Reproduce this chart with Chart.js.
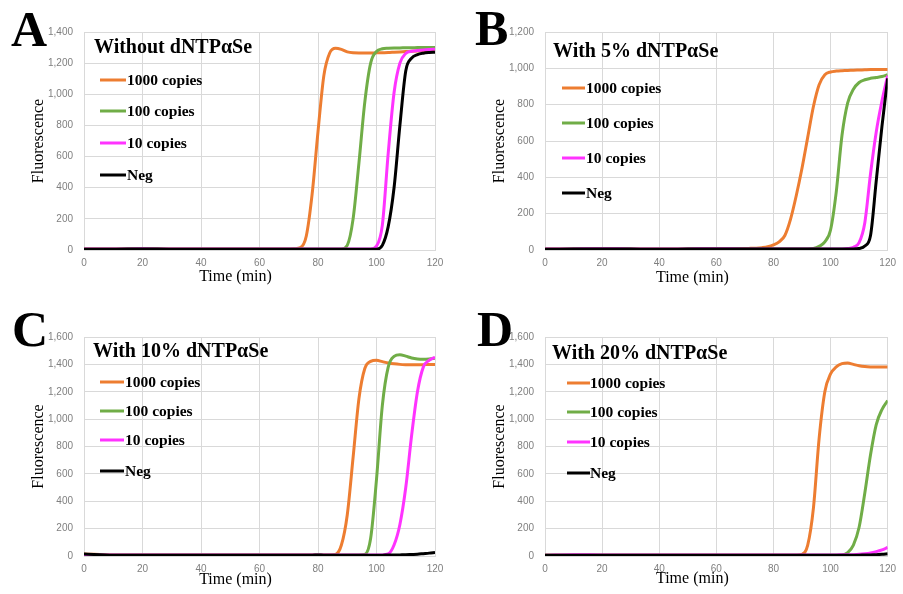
<!DOCTYPE html>
<html>
<head>
<meta charset="utf-8">
<script src="https://cdn.jsdelivr.net/npm/chart.js@4.4.1/dist/chart.umd.min.js"></script>
<style>
html, body { margin: 0; padding: 0; background: #fff; }
#wrap { position: relative; width: 903px; height: 594px; }
#wrap canvas { position: absolute; left: 0; top: 0; }
</style>
</head>
<body>
<div id="wrap">
    <canvas id="painelA" width="903" height="594"></canvas>
    <canvas id="painelB" width="903" height="594"></canvas>
    <canvas id="painelC" width="903" height="594"></canvas>
    <canvas id="painelD" width="903" height="594"></canvas>
</div>
<script>
// tempo (min)
const tempos = [0, 10, 20, 30, 40, 50, 60, 70, 72, 74, 76, 78, 80, 82, 84, 86, 88, 90,
    92, 94, 96, 98, 100, 102, 104, 106, 108, 110, 112, 114, 116, 118, 120];

const nomesSeries = ['1000 copies', '100 copies', '10 copies', 'Neg'];
const xTicks = [0, 20, 40, 60, 80, 100, 120];

// A - Without dNTPaSe
const a1000 = [6, 6, 8, 6, 6, 7, 6, 6, 8, 15, 90, 360, 760, 1120, 1265, 1295, 1288, 1272,
    1266, 1265, 1265, 1265, 1266, 1267, 1268, 1270, 1272, 1274, 1276, 1278, 1280, 1282, 1284];
const a100 = [6, 6, 8, 6, 6, 7, 6, 6, 6, 6, 6, 6, 6, 6, 6, 6, 6, 30,
    200, 560, 950, 1200, 1275, 1292, 1296, 1298, 1298, 1299, 1299, 1300, 1300, 1300, 1300];
const a10 = [6, 6, 8, 6, 6, 6, 6, 6, 6, 6, 6, 6, 6, 6, 6, 6, 6, 6,
    6, 6, 6, 6, 25, 160, 620, 1010, 1200, 1262, 1276, 1281, 1285, 1288, 1290];
const aNeg = [5, 5, 7, 5, 5, 5, 5, 5, 5, 5, 5, 5, 5, 5, 5, 5, 5, 5,
    5, 5, 5, 5, 5, 30, 150, 400, 800, 1150, 1232, 1255, 1264, 1268, 1270];

// B - With 5% dNTPaSe
const b1000 = [5, 6, 8, 6, 5, 6, 7, 8, 9, 10, 13, 18, 28, 45, 80, 170, 300, 450,
    620, 790, 910, 965, 980, 985, 987, 988, 990, 991, 992, 993, 993, 994, 994];
const b100 = [5, 6, 7, 6, 5, 6, 7, 6, 6, 6, 6, 6, 6, 6, 6, 6, 6, 6,
    6, 8, 20, 45, 110, 320, 630, 810, 885, 922, 937, 945, 950, 955, 965];
const b10 = [5, 6, 7, 6, 5, 6, 7, 6, 6, 6, 6, 6, 6, 6, 6, 6, 6, 6,
    6, 6, 6, 6, 6, 6, 6, 8, 15, 40, 150, 420, 650, 820, 960];
const bNeg = [4, 5, 6, 5, 4, 5, 6, 5, 5, 5, 5, 5, 5, 5, 5, 5, 5, 5,
    5, 5, 5, 5, 5, 5, 5, 5, 5, 8, 22, 80, 380, 680, 945];

// C - With 10% dNTPaSe
const c1000 = [15, 8, 8, 8, 8, 8, 8, 8, 8, 8, 8, 8, 8, 8, 8, 12, 80, 300,
    720, 1150, 1370, 1422, 1430, 1420, 1410, 1404, 1400, 1398, 1397, 1397, 1398, 1400, 1400];
const c100 = [10, 8, 8, 8, 8, 8, 8, 8, 8, 8, 8, 8, 8, 8, 8, 8, 8, 8,
    8, 8, 12, 130, 560, 1100, 1380, 1458, 1470, 1460, 1447, 1440, 1438, 1440, 1445];
const c10 = [8, 8, 8, 8, 8, 8, 8, 8, 8, 8, 8, 8, 8, 8, 8, 8, 8, 8,
    8, 8, 8, 8, 8, 8, 15, 80, 230, 500, 880, 1200, 1380, 1430, 1452];
const cNeg = [15, 6, 5, 5, 5, 5, 5, 5, 5, 5, 6, 6, 7, 6, 6, 6, 6, 6,
    6, 6, 6, 6, 6, 6, 7, 7, 8, 9, 11, 13, 17, 21, 26];

// D - With 20% dNTPaSe
const d1000 = [6, 6, 6, 6, 6, 6, 6, 6, 6, 6, 6, 6, 6, 6, 6, 6, 6, 12,
    80, 350, 860, 1200, 1330, 1382, 1405, 1410, 1400, 1390, 1384, 1381, 1380, 1380, 1380];
const d100 = [6, 6, 6, 6, 6, 6, 6, 6, 6, 6, 6, 6, 6, 6, 6, 6, 6, 6,
    6, 6, 6, 6, 6, 6, 8, 25, 80, 210, 460, 740, 960, 1070, 1135];
const d10 = [5, 10, 8, 7, 7, 7, 8, 7, 7, 7, 7, 7, 7, 7, 7, 7, 7, 7,
    7, 7, 7, 7, 8, 8, 9, 9, 10, 12, 16, 22, 32, 45, 62];
const dNeg = [5, 5, 5, 5, 5, 5, 5, 5, 5, 5, 5, 5, 5, 5, 5, 5, 5, 5,
    5, 5, 5, 5, 5, 5, 5, 5, 5, 6, 7, 8, 10, 12, 16];

const cores = ['#ED7D31', '#70AD47', '#FF33FF', '#000000'];

const anotacoes = {
    id: 'anotacoes',
    afterDraw(chart, args, opts) {
        const ctx = chart.ctx;
        const area = chart.chartArea;
        ctx.save();
        ctx.fillStyle = '#000';
        ctx.textAlign = 'left';

        ctx.font = 'bold 50px "Liberation Serif"';
        ctx.textBaseline = 'alphabetic';
        ctx.fillText(opts.letra, opts.letraX, opts.letraY);

        ctx.font = '16px "Liberation Serif"';
        ctx.textAlign = 'center';
        ctx.textBaseline = 'middle';
        ctx.fillText('Time (min)', (area.left + area.right) / 2 - 24, area.bottom + opts.xTituloDy);

        ctx.textAlign = 'left';
        ctx.font = 'bold 20px "Liberation Serif"';
        ctx.fillText(opts.titulo, area.left + opts.tituloDx, area.top + opts.tituloDy);

        ctx.font = 'bold 15.5px "Liberation Serif"';
        chart.data.datasets.forEach((ds, i) => {
            const y = area.top + opts.itensDy[i];
            ctx.strokeStyle = ds.borderColor;
            ctx.lineWidth = 3;
            ctx.beginPath();
            ctx.moveTo(area.left + opts.linhaX0, y);
            ctx.lineTo(area.left + opts.linhaX1, y);
            ctx.stroke();
            ctx.fillText(ds.label, area.left + opts.textoDx, y + 1);
        });
        ctx.restore();
    }
};

function criarPainel(id, valores, yMax, area, legenda) {
    const ctx = document.getElementById(id).getContext('2d');
    const ordem = [3, 2, 1, 0];
    return new Chart(ctx, {
        type: 'line',
        data: {
            labels: tempos,
            datasets: valores.map((v, i) => ({
                label: nomesSeries[i],
                data: v.map((y, k) => ({ x: tempos[k], y: y })),
                borderColor: cores[i],
                borderWidth: 3,
                pointRadius: 0,
                cubicInterpolationMode: 'monotone',
                order: ordem[i]
            }))
        },
        options: {
            responsive: false,
            animation: false,
            devicePixelRatio: 1,
            layout: {
                padding: {
                    left: area.left - 55,
                    top: area.top,
                    right: 903 - area.right,
                    bottom: 594 - area.bottom - 30
                }
            },
            scales: {
                x: {
                    type: 'linear',
                    min: 0,
                    max: 120,
                    afterBuildTicks: s => { s.ticks = xTicks.map(v => ({ value: v })); },
                    ticks: { padding: 7, color: '#7f7f7f', font: { family: '"Liberation Sans"', size: 10 } },
                    grid: { color: '#d9d9d9', drawTicks: false },
                    border: { color: '#d9d9d9' },
                    afterFit: s => { s.height = 30; }
                },
                y: {
                    min: 0,
                    max: yMax,
                    ticks: { stepSize: 200, padding: 11, color: '#7f7f7f', font: { family: '"Liberation Sans"', size: 10 } },
                    grid: { color: '#d9d9d9', drawTicks: false },
                    border: { color: '#d9d9d9' },
                    title: {
                        display: true,
                        text: 'Fluorescence',
                        color: '#000',
                        padding: 0,
                        font: { family: '"Liberation Serif"', size: 16 }
                    },
                    afterFit: s => { s.width = 55; }
                }
            },
            plugins: {
                legend: { display: false },
                tooltip: { enabled: false },
                anotacoes: legenda
            }
        },
        plugins: [anotacoes]
    });
}

criarPainel('painelA', [a1000, a100, a10, aNeg], 1400,
    { left: 84, top: 32, right: 435, bottom: 250 },
    { letra: 'A', letraX: 11, letraY: 46, titulo: 'Without dNTPαSe', tituloDx: 10, tituloDy: 16,
      linhaX0: 16, linhaX1: 42, textoDx: 43, itensDy: [48, 79, 111, 143], xTituloDy: 27 });

criarPainel('painelB', [b1000, b100, b10, bNeg], 1200,
    { left: 545, top: 32, right: 896, bottom: 250 },
    { letra: 'B', letraX: 475, letraY: 45, titulo: 'With 5% dNTPαSe', tituloDx: 8, tituloDy: 20,
      linhaX0: 17, linhaX1: 40, textoDx: 41, itensDy: [56, 91, 126, 161], xTituloDy: 28 });

criarPainel('painelC', [c1000, c100, c10, cNeg], 1600,
    { left: 84, top: 337, right: 435, bottom: 556 },
    { letra: 'C', letraX: 12, letraY: 346, titulo: 'With 10% dNTPαSe', tituloDx: 9, tituloDy: 15,
      linhaX0: 16, linhaX1: 40, textoDx: 41, itensDy: [45, 74, 103, 134], xTituloDy: 24 });

criarPainel('painelD', [d1000, d100, d10, dNeg], 1600,
    { left: 545, top: 337, right: 896, bottom: 556 },
    { letra: 'D', letraX: 477, letraY: 346, titulo: 'With 20% dNTPαSe', tituloDx: 7, tituloDy: 17,
      linhaX0: 22, linhaX1: 45, textoDx: 45, itensDy: [46, 75, 105, 136], xTituloDy: 23 });
</script>
</body>
</html>
